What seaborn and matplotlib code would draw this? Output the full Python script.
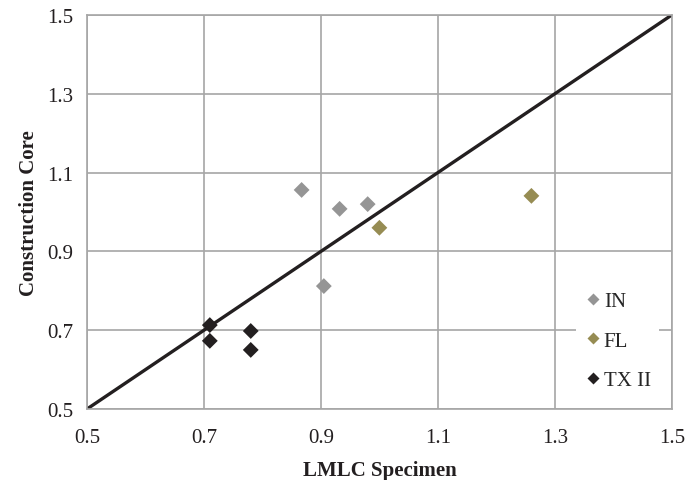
import matplotlib
matplotlib.use("Agg")
import matplotlib.pyplot as plt
import pandas as pd
import seaborn as sns

# values
groups = ["IN", "IN", "IN", "IN", "FL", "FL", "TX II", "TX II", "TX II", "TX II"]
lmlc = [0.867, 0.932, 0.980, 0.905, 1.000, 1.260, 0.710, 0.710, 0.780, 0.780]
core = [1.056, 1.008, 1.020, 0.812, 0.960, 1.041, 0.713, 0.673, 0.698, 0.650]
palette = {"IN": "#959595", "FL": "#968c53", "TX II": "#231f20"}
ticks = [0.5, 0.7, 0.9, 1.1, 1.3, 1.5]

df = pd.DataFrame({"LMLC Specimen": lmlc, "Construction Core": core, "group": groups})

sns.set_style("white")
plt.rcParams["font.family"] = ["Liberation Serif", "DejaVu Serif"]

fig = plt.figure(figsize=(6.99, 4.81), dpi=100)
ax = fig.add_axes([0.1245, 0.1476, 0.8365, 0.8191])

ax.plot([0.5, 1.5], [0.5, 1.5], color="#231f20", lw=2.4, zorder=2)
sns.scatterplot(data=df, x="LMLC Specimen", y="Construction Core", hue="group",
                palette=palette, marker="D", s=65, edgecolor="none", ax=ax, zorder=3)

ax.set_xlim(0.5, 1.5)
ax.set_ylim(0.5, 1.5)
ax.set_xticks(ticks)
ax.set_yticks(ticks)
ax.set_xticklabels([f"{t:.1f}" for t in ticks])
ax.set_yticklabels([f"{t:.1f}" for t in ticks])
ax.tick_params(labelsize=15, colors="#231f20", color="#a6a6a6", direction="out")
ax.tick_params(axis="x", length=0, pad=14)
ax.tick_params(axis="y", length=6, width=1.2, pad=4)
ax.grid(True, color="#a6a6a6", lw=1.2)
ax.set_axisbelow(True)
for sp in ax.spines.values():
    sp.set_color("#a6a6a6")
    sp.set_linewidth(1.2)
ax.set_xlabel("LMLC Specimen", fontsize=15, fontweight="bold", color="#231f20", labelpad=9)
ax.set_ylabel("Construction Core", fontsize=15, fontweight="bold", color="#231f20", labelpad=6)

leg = ax.legend(title=None, loc="upper left", bbox_to_anchor=(0.818, 0.345), frameon=True,
                fontsize=15, handlelength=0.9, handletextpad=0.05, labelspacing=0.95,
                borderpad=0.4, markerscale=0.8)
leg.get_frame().set_edgecolor("none")
leg.get_frame().set_facecolor("white")
leg.get_frame().set_alpha(1)

fig.savefig("out.png", dpi=100)
